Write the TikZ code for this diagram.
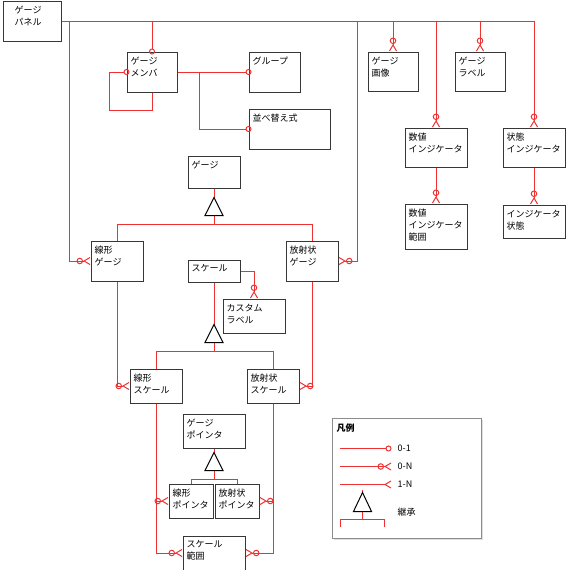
\documentclass[tikz,border=0pt]{standalone}
\usepackage{fontspec}
\setmainfont{Noto Sans CJK JP}
\usetikzlibrary{arrows.meta,shadows}
\definecolor{relred}{RGB}{238,50,50}
\definecolor{boxgray}{RGB}{55,55,55}

\begin{document}
\begin{tikzpicture}[x=1pt,y=-1pt,
  every node/.style={font=\fontsize{9pt}{12pt}\selectfont},
  boxtxt/.style={anchor=north west,align=left,inner sep=0pt,xshift=4pt,yshift=-5pt},
  box/.style={draw=boxgray,line width=1pt,fill=white,anchor=north west,inner sep=0pt,
    drop shadow={shadow xshift=1pt,shadow yshift=-1pt,opacity=0.3}},
  ent/.style={box,label={[boxtxt]north west:#1}},
  wideent/.style={box,label={[boxtxt,xshift=8pt]north west:#1}},
  rel/.style={draw=relred,line width=1pt},
  zo/.style={rel,-{Circle[open,length=6pt,width=6pt]},shorten >=-3pt},
  zn/.style={rel,-{Circle[open,length=6.5pt,width=6.5pt] Straight Barb[reversed,length=6pt,width=7pt]}},
  on/.style={rel,-{Straight Barb[reversed,length=6pt,width=7pt]}},
  inh/.style={draw=black,line width=1pt,fill=white},
  legtxt/.style={anchor=west,inner sep=0pt},
  legendbox/.style={draw=black!45,line width=1pt,fill=white,anchor=north west,
    drop shadow={shadow xshift=2pt,shadow yshift=-2pt,opacity=0.25}}
]
  \useasboundingbox (0,0) rectangle (565,570);
  \begin{scope}[shift={(0.5,0.5)}]

  % エンティティ
  \node[wideent={ゲージ\\パネル},minimum width=58pt,minimum height=40pt] (panel) at (2,0) {};
  \node[ent={ゲージ\\メンバ},minimum width=50pt,minimum height=40pt] (member) at (126,51) {};
  \node[ent={グループ},minimum width=51pt,minimum height=40pt] (group) at (248,51) {};
  \node[ent={並べ替え式},minimum width=81pt,minimum height=40pt] (sortexpr) at (248,108) {};
  \node[ent={ゲージ\\画像},minimum width=50pt,minimum height=39pt] (gimage) at (367,51) {};
  \node[ent={ゲージ\\ラベル},minimum width=50pt,minimum height=39pt] (glabel) at (454,51) {};
  \node[ent={数値\\インジケータ},minimum width=62pt,minimum height=39pt] (numind) at (404,127) {};
  \node[ent={状態\\インジケータ},minimum width=62pt,minimum height=39pt] (stateind) at (502,127) {};
  \node[ent={数値\\インジケータ\\範囲},minimum width=62pt,minimum height=45pt] (numrange) at (404,203) {};
  \node[ent={インジケータ\\状態},minimum width=62pt,minimum height=33pt] (indstate) at (502,204) {};
  \node[ent={ゲージ},minimum width=52pt,minimum height=32pt] (gauge) at (187,155) {};
  \node[ent={線形\\ゲージ},minimum width=52pt,minimum height=40pt] (lingauge) at (90,240) {};
  \node[ent={放射状\\ゲージ},minimum width=52pt,minimum height=40pt] (radgauge) at (285,240) {};
  \node[ent={スケール},minimum width=52pt,minimum height=22pt] (scale) at (187,259) {};
  \node[ent={カスタム\\ラベル},minimum width=62pt,minimum height=34pt] (customlbl) at (222,298) {};
  \node[ent={線形\\スケール},minimum width=52pt,minimum height=34pt] (linscale) at (129,368) {};
  \node[ent={放射状\\スケール},minimum width=52pt,minimum height=34pt] (radscale) at (246,368) {};
  \node[ent={ゲージ\\ポインタ},minimum width=62pt,minimum height=34pt] (pointer) at (182,413) {};
  \node[ent={線形\\ポインタ},minimum width=44pt,minimum height=34pt] (linptr) at (168,483) {};
  \node[ent={放射状\\ポインタ},minimum width=44pt,minimum height=34pt] (radptr) at (214,483) {};
  \node[ent={スケール\\範囲},minimum width=62pt,minimum height=34pt] (scalerange) at (182,535) {};

  % パネルからの線
  \coordinate (lbus) at (69,20);
  \coordinate (rbus) at (357,20);
  \draw[rel] (panel.east) -- (stateind.north |- panel.east);
  \draw[zo] (member.north |- panel.east) -- (member.north);
  \draw[zn] (gimage.north |- panel.east) -- (gimage.north);
  \draw[zn] (glabel.north |- panel.east) -- (glabel.north);
  \draw[zn] (numind.north |- panel.east) -- (numind.north);
  \draw[zn] (stateind.north |- panel.east) -- (stateind.north);
  \draw[zn] (lbus) |- (lingauge.west);
  \draw[zn] (rbus) |- (radgauge.east);

  % メンバ
  \draw[zo] (member.south) |- ++(-43,18) |- (member.west);
  \draw[zo] (member.east) -- (group.west);
  \coordinate (sj) at ([xshift=22pt]member.east);
  \draw[zo] (sj) |- (sortexpr.west);

  % インジケータ
  \draw[zn] (numind.south) -- (numrange.north);
  \draw[zn] (stateind.south) -- (indstate.north);

  % ゲージの継承
  \coordinate (t1) at ([yshift=-9pt]gauge.south);
  \draw[rel] (gauge.south) -- (t1);
  \draw[rel] ([yshift=-18pt]t1) -- ++(0,9) coordinate (bar1);
  \draw[rel] (lingauge.north) |- (bar1) -| (radgauge.north);
  \draw[inh] (t1) -- ++(9,18) -- ++(-18,0) -- cycle;

  % スケール
  \draw[zn] (scale.east) -| (customlbl.north);
  \coordinate (t2) at ([yshift=-42pt]scale.south);
  \draw[rel] (scale.south) -- (t2);
  \draw[rel] ([yshift=-18pt]t2) -- ++(0,9) coordinate (bar2);
  \draw[rel] (linscale.north) |- (bar2) -| (radscale.north);
  \draw[inh] (t2) -- ++(9,18) -- ++(-18,0) -- cycle;
  \draw[zn] (lingauge.south) |- (linscale.west);
  \draw[zn] (radgauge.south) |- (radscale.east);
  \draw[zn] (linscale.south) |- (linptr.west);
  \draw[zn] (linscale.south) |- (scalerange.west);
  \draw[zn] (radscale.south) |- (radptr.east);
  \draw[zn] (radscale.south) |- (scalerange.east);

  % ポインタの継承
  \coordinate (t3) at ([yshift=-4pt]pointer.south);
  \draw[rel] (pointer.south) -- (t3);
  \draw[rel] ([yshift=-18pt]t3) -- ++(0,9) coordinate (bar3);
  \draw[rel] (linptr.north) |- (bar3) -| (radptr.north);
  \draw[inh] (t3) -- ++(9,18) -- ++(-18,0) -- cycle;

  % 凡例
  \node[legendbox,minimum width=149pt,minimum height=120pt] (legend) at (331,417) {};
  \node[anchor=north west,inner sep=0pt,font=\fontsize{9pt}{12pt}\selectfont\bfseries]
    (legtitle) at ([shift={(5pt,-6pt)}]legend.north west) {凡例};
  \node[legtxt] (k01) at (397,448) {0-1};
  \node[legtxt] (k0n) at (397,466) {0-N};
  \node[legtxt] (k1n) at (397,484) {1-N};
  \node[legtxt] (kinh) at (397,512) {継承};
  \coordinate (k01s) at (339,448);
  \coordinate (k0ns) at (339,466);
  \coordinate (k1ns) at (339,484);
  \draw[rel,-{Circle[open,length=6pt,width=6pt]}] (k01s) -- ([xshift=-6pt]k01.west);
  \draw[zn] (k0ns) -- ([xshift=-6pt]k0n.west);
  \draw[on] (k1ns) -- ([xshift=-6pt]k1n.west);
  \coordinate (t4) at (362,492);
  \draw[rel] ([yshift=3pt]t4) -- (t4);
  \draw[rel] ([yshift=-19pt]t4) -- ++(0,8) coordinate (bar4);
  \draw[rel] ([shift={(-22pt,-7pt)}]bar4) |- ([xshift=22pt]bar4) -- ++(0,7);
  \draw[inh] (t4) -- ++(9,19) -- ++(-18,0) -- cycle;
  \end{scope}
\end{tikzpicture}
\end{document}
